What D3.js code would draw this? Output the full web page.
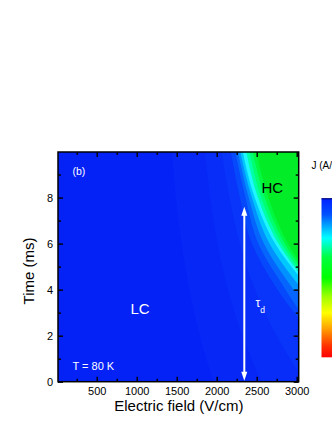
<!DOCTYPE html>
<html><head><meta charset="utf-8">
<script src="https://cdn.jsdelivr.net/npm/d3@7"></script>
<style>
html,body{margin:0;padding:0;background:#fff;}
svg{display:block;font-family:"Liberation Sans",Arial,sans-serif;}
</style></head>
<body><svg id="c" width="332" height="430"></svg>
<script>
// ---- data ----
const xMajorTicks = [500, 1000, 1500, 2000, 2500, 3000];
const xMinorTicks = [250, 750, 1250, 1750, 2250, 2750];
const yMajorTicks = [0, 2, 4, 6, 8];
const yMinorTicks = [1, 3, 5, 7, 9];
const xDomain = [16, 3025];
const yDomain = [0, 9.98];

// contour levels: boundary field E (V/cm) at each time t (ms); region to the right is filled
const levelTimes = [0, 2, 4, 6, 8, 10];
const baseColor = "#0522f6";
const levelColors = ["#0727f7", "#082df8", "#0835f9", "#0648fb", "#0565fd", "#0090ff", "#00c8ff", "#20f6ff", "#00ffa8", "#00ff70", "#00f840", "#02ec28"];
const level1 = [1960, 1790, 1660, 1560, 1490, 1440];
const level2 = [2560, 2320, 2140, 2010, 1920, 1850];
const level3 = [3100, 2750, 2480, 2290, 2160, 2060];
const level4 = [null, 3200, 2760, 2440, 2290, 2175];
const level5 = [null, 3250, 2860, 2520, 2360, 2230];
const level6 = [null, null, 2960, 2590, 2400, 2265];
const level7 = [null, null, 3070, 2660, 2440, 2295];
const level8 = [null, null, 3170, 2730, 2475, 2325];
const level9 = [null, null, 3200, 2770, 2515, 2370];
const level10 = [null, null, 3230, 2810, 2555, 2410];
const level11 = [null, null, 3260, 2850, 2600, 2450];
const level12 = [null, null, 3290, 2890, 2645, 2495];
const levels = [level1, level2, level3, level4, level5, level6, level7, level8, level9, level10, level11, level12];

// colour bar (top to bottom)
const colorbarStops = [0, 0.1, 0.25, 0.37, 0.5, 0.62, 0.72, 0.82, 0.93, 1];
const colorbarColors = ["#0020ff", "#0050ff", "#00ffff", "#00ff40", "#00ff00", "#a0ff00", "#ffff00", "#ffa000", "#ff3000", "#ff0000"];

const tauArrow = {E: 2345, t0: 0.04, t1: 7.6};

// ---- drawing ----
const svg = d3.select("#c");
const L = 58, R = 298.7, T = 152, B = 381.7;
const x = d3.scaleLinear().domain(xDomain).range([L, R]);
const y = d3.scaleLinear().domain(yDomain).range([B, T]);

svg.append("defs").append("clipPath").attr("id", "clip")
  .append("rect").attr("x", L).attr("y", T).attr("width", R - L).attr("height", B - T);

const plot = svg.append("g").attr("clip-path", "url(#clip)");
plot.append("rect").attr("x", L).attr("y", T).attr("width", R - L).attr("height", B - T).attr("fill", baseColor);

const area = d3.area()
  .defined(d => d.E != null)
  .y(d => y(d.t))
  .x0(d => x(d.E))
  .x1(R + 20)
  .curve(d3.curveMonotoneY);

levels.forEach((lv, i) => {
  const pts = lv.map((E, j) => ({E: E, t: levelTimes[j]}));
  plot.append("path").attr("d", area(pts)).attr("fill", levelColors[i]);
});

// axes
function styleAxis(g) {
  g.select(".domain").remove();
  g.selectAll(".tick line").attr("stroke", "#000").attr("stroke-width", 1.4);
  g.selectAll(".tick text").attr("font-size", 11).attr("fill", "#000")
    .attr("font-family", '"Liberation Sans",Arial,sans-serif');
}
svg.append("g").attr("transform", `translate(0,${B})`)
  .call(d3.axisBottom(x).tickValues(xMajorTicks).tickSize(-5).tickPadding(6).tickFormat(d3.format("d"))).call(styleAxis);
svg.append("g").attr("transform", `translate(0,${B})`)
  .call(d3.axisBottom(x).tickValues(xMinorTicks).tickSize(-3).tickFormat("")).call(styleAxis);
svg.append("g").attr("transform", `translate(0,${T})`)
  .call(d3.axisTop(x).tickValues(xMajorTicks).tickSize(-5).tickFormat("")).call(styleAxis);
svg.append("g").attr("transform", `translate(0,${T})`)
  .call(d3.axisTop(x).tickValues(xMinorTicks).tickSize(-3).tickFormat("")).call(styleAxis);
svg.append("g").attr("transform", `translate(${L},0)`)
  .call(d3.axisLeft(y).tickValues(yMajorTicks).tickSize(-5).tickPadding(5).tickFormat(d3.format("d"))).call(styleAxis);
svg.append("g").attr("transform", `translate(${L},0)`)
  .call(d3.axisLeft(y).tickValues(yMinorTicks).tickSize(-3).tickFormat("")).call(styleAxis);
svg.append("g").attr("transform", `translate(${R},0)`)
  .call(d3.axisRight(y).tickValues(yMajorTicks).tickSize(-5).tickFormat("")).call(styleAxis);
svg.append("g").attr("transform", `translate(${R},0)`)
  .call(d3.axisRight(y).tickValues(yMinorTicks).tickSize(-3).tickFormat("")).call(styleAxis);

svg.append("rect").attr("x", L).attr("y", T).attr("width", R - L).attr("height", B - T)
  .attr("fill", "none").attr("stroke", "#000").attr("stroke-width", 1.5);

// axis titles
svg.append("text").attr("x", 178.8).attr("y", 411).attr("text-anchor", "middle")
  .attr("font-size", 15).text("Electric field (V/cm)");
svg.append("text").attr("transform", "translate(33.5,271) rotate(-90)").attr("text-anchor", "middle")
  .attr("font-size", 15).text("Time (ms)");

// annotations
svg.append("text").attr("x", 72.5).attr("y", 174.5).attr("font-size", 10.5).attr("fill", "#fff").text("(b)");
svg.append("text").attr("x", 72.5).attr("y", 370).attr("font-size", 11).attr("fill", "#fff").text("T = 80 K");
svg.append("text").attr("x", 130.5).attr("y", 314).attr("font-size", 15).attr("fill", "#fff").text("LC");
svg.append("text").attr("x", 261.5).attr("y", 192.7).attr("font-size", 15).attr("fill", "#000").text("HC");
const tau = svg.append("text").attr("x", 255.5).attr("y", 306.7).attr("font-size", 12).attr("fill", "#fff");
tau.append("tspan").text("\u03C4");
tau.append("tspan").attr("font-size", 8.5).attr("dy", 6).text("d");

// double arrow
const ax = x(tauArrow.E), ay0 = y(tauArrow.t0), ay1 = y(tauArrow.t1);
svg.append("line").attr("x1", ax).attr("x2", ax).attr("y1", ay1 + 6).attr("y2", ay0 - 6)
  .attr("stroke", "#fff").attr("stroke-width", 2);
svg.append("path").attr("d", `M${ax},${ay1} L${ax - 3},${ay1 + 9} L${ax + 3},${ay1 + 9} Z`).attr("fill", "#fff");
svg.append("path").attr("d", `M${ax},${ay0} L${ax - 3},${ay0 - 9} L${ax + 3},${ay0 - 9} Z`).attr("fill", "#fff");

// colour bar
const grad = svg.select("defs").append("linearGradient").attr("id", "cb")
  .attr("x1", 0).attr("y1", 0).attr("x2", 0).attr("y2", 1);
colorbarStops.forEach((s, i) => grad.append("stop").attr("offset", s).attr("stop-color", colorbarColors[i]));
svg.append("rect").attr("x", 321.5).attr("y", 198.3).attr("width", 20).attr("height", 159).attr("fill", "url(#cb)");
svg.append("line").attr("x1", 321.5).attr("x2", 342).attr("y1", 198.8).attr("y2", 198.8)
  .attr("stroke", "#000060").attr("stroke-width", 1);
svg.append("text").attr("x", 311.5).attr("y", 168.5).attr("font-size", 10).text("J (A/cm\u00B2)");
</script></body></html>
